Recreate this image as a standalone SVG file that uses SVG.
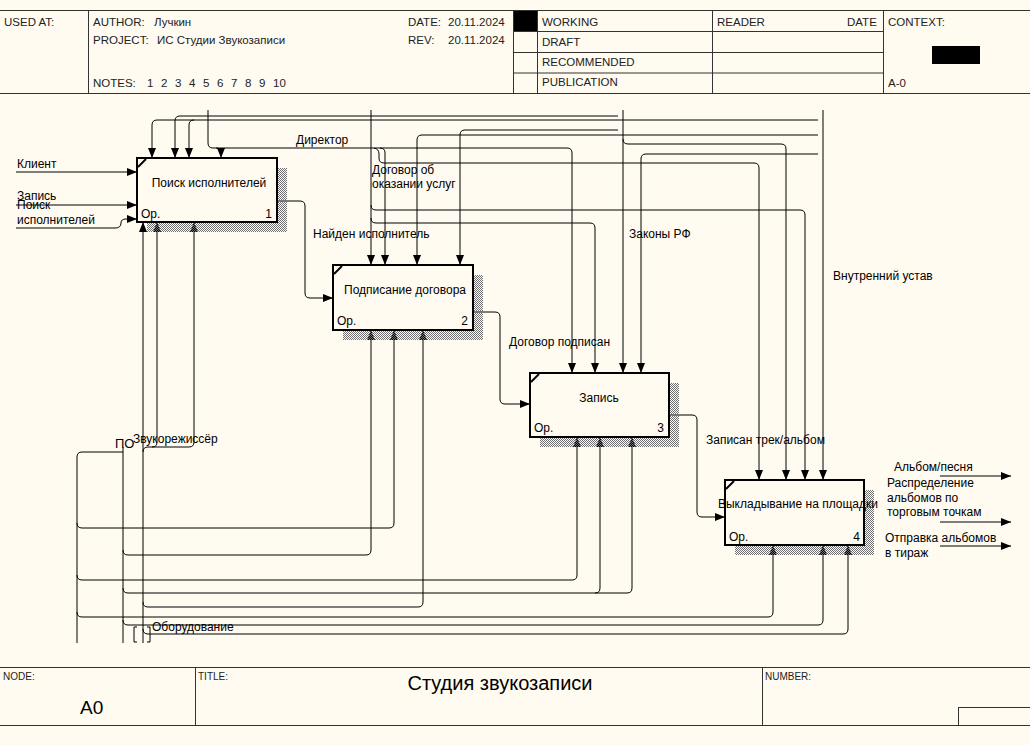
<svg xmlns="http://www.w3.org/2000/svg" width="1030" height="745" viewBox="0 0 1030 745">
<defs>
<pattern id="hatch" width="2" height="2" patternUnits="userSpaceOnUse"><rect width="1" height="1" fill="#707070"/><rect x="1" y="1" width="1" height="1" fill="#707070"/></pattern>
<marker id="ah" markerWidth="10" markerHeight="8" refX="10" refY="4" orient="auto" markerUnits="userSpaceOnUse"><path d="M0,0 L10,4 L0,8 z" fill="#000"/></marker>
</defs>
<style>
text{font-family:"Liberation Sans",Arial,sans-serif;font-size:12px;fill:#000}
.hdr{font-size:11.5px;fill:#222}
.sm{font-size:10px;fill:#222}
.fr{stroke:#333;stroke-width:1;fill:none}
.c{fill:none;stroke:#000;stroke-width:1}
.a{fill:none;stroke:#000;stroke-width:1;marker-end:url(#ah)}
.box{fill:#fffbf1;stroke:#000;stroke-width:2}
.sh{fill:url(#hatch)}
.mid{text-anchor:middle}
.end{text-anchor:end}
</style>
<rect width="1030" height="745" fill="#fffbf1"/>

<g id="header">
<path class="fr" d="M0,10.5 H1030 M0,93.5 H1030 M88.5,10 V94 M513.5,10 V94 M537.5,10 V94 M712.5,10 V94 M883.5,10 V94 M513,31.5 H883 M513,52.5 H883 M513,73 H883"/>
<rect x="514" y="11" width="23" height="20" fill="#000"/>
<rect x="932" y="46" width="48" height="18" fill="#000"/>
<text class="hdr" x="4" y="26">USED AT:</text>
<text class="hdr" x="93" y="26">AUTHOR:<tspan x="154">Лучкин</tspan></text>
<text class="hdr" x="93" y="44">PROJECT:<tspan x="157">ИС Студии Звукозаписи</tspan></text>
<text class="hdr" x="93" y="87">NOTES:<tspan x="147">1</tspan><tspan x="161">2</tspan><tspan x="175">3</tspan><tspan x="189">4</tspan><tspan x="203">5</tspan><tspan x="217">6</tspan><tspan x="231">7</tspan><tspan x="245">8</tspan><tspan x="259">9</tspan><tspan x="273">10</tspan></text>
<text class="hdr" x="408" y="26">DATE:<tspan x="448">20.11.2024</tspan></text>
<text class="hdr" x="408" y="44">REV:<tspan x="448">20.11.2024</tspan></text>
<text class="hdr" x="542" y="26">WORKING</text>
<text class="hdr" x="542" y="46">DRAFT</text>
<text class="hdr" x="542" y="66">RECOMMENDED</text>
<text class="hdr" x="542" y="86">PUBLICATION</text>
<text class="hdr" x="717" y="26">READER</text>
<text class="hdr" x="847" y="26">DATE</text>
<text class="hdr" x="888" y="26">CONTEXT:</text>
<text class="hdr" x="888" y="87">A-0</text>
</g>

<g id="footer">
<path class="fr" d="M0,667.5 H1030 M0,725.5 H1030 M195.5,667 V725 M762.5,667 V725 M958.5,707 V725 M958,707.5 H1030"/>
<text class="sm" x="3" y="680">NODE:</text>
<text x="80" y="714" style="font-size:19px">A0</text>
<text class="sm" x="198" y="680">TITLE:</text>
<text class="mid" x="500" y="690" style="font-size:20px">Студия звукозаписи</text>
<text class="sm" x="765" y="680">NUMBER:</text>
</g>

<g id="connectors">
<path class="a" d="M16,172 H137"/>
<path class="a" d="M16,205 H137"/>
<path class="a" d="M16,228 H115 Q121,228 121,223 Q121,219 126,219 H137"/>
<path class="a" d="M208,110 V143 Q208,148 213,148 H567 Q572,148 572,153 V373"/>
<path class="a" d="M216,148 Q221,148 221,153 V158"/>
<path class="a" d="M380,148 Q385,148 385,153 V265"/>
<path class="a" d="M374,148 Q379,149 379,154 V158 Q379,163 384,163 H754 Q759,163 759,168 V480"/>
<path class="a" d="M371,110 V265"/>
<path class="a" d="M371,120 H157 Q152,120 152,125 V158"/>
<path class="a" d="M194,120 Q189,120 189,125 V158"/>
<path class="a" d="M371,205 Q371,210 376,210 H800 Q805,210 805,215 V480"/>
<path class="a" d="M371,218 Q371,223 376,223 H590 Q595,223 595,228 V373"/>
<path class="a" d="M623,110 V373"/>
<path class="a" d="M618,116 H180 Q175,116 175,121 V158"/>
<path class="a" d="M618,130 H465 Q460,130 460,135 V265"/>
<path class="a" d="M623,139 Q623,144 628,144 H781 Q786,144 786,149 V480"/>
<path class="a" d="M823,110 V480"/>
<path class="c" d="M818,120 H371"/>
<path class="a" d="M818,135 H422 Q417,135 417,140 V265"/>
<path class="a" d="M818,154 H646 Q641,154 641,159 V373"/>
<path class="a" d="M277,201 H300 Q305,201 305,206 V293 Q305,298 310,298 H333"/>
<path class="a" d="M473,312 H495 Q500,312 500,317 V399 Q500,404 505,404 H530"/>
<path class="a" d="M669,415 H692 Q697,415 697,420 V512 Q697,517 702,517 H725"/>
<path class="a" d="M940,476 H1011"/>
<path class="a" d="M940,522 H1011"/>
<path class="a" d="M940,546 H1011"/>
<path class="c" d="M77,643 V457 Q77,452 82,452 H123"/>
<path class="a" d="M77,523 Q77,528 82,528 H389 Q394,528 394,523 V330"/>
<path class="a" d="M77,575 Q77,580 82,580 H572 Q577,580 577,575 V437"/>
<path class="a" d="M77,612 Q77,617 82,617 H768 Q773,617 773,612 V545"/>
<path class="c" d="M123,643 V447"/>
<path class="a" d="M123,550 Q123,555 128,555 H366 Q371,555 371,550 V330"/>
<path class="a" d="M123,588 Q123,593 128,593 H595 Q600,593 600,588 V437"/>
<path class="a" d="M595,593 H627 Q632,593 632,588 V437"/>
<path class="a" d="M123,620 Q123,625 128,625 H818 Q823,625 823,620 V545"/>
<path class="a" d="M143,643 V222"/>
<path class="a" d="M143,452 Q143,447 148,447 H189 Q194,447 194,442 V222"/>
<path class="a" d="M152,447 Q157,447 157,442 V222"/>
<path class="a" d="M143,602 Q143,607 148,607 H418 Q423,607 423,602 V330"/>
<path class="a" d="M143,629 Q143,634 148,634 H843 Q848,634 848,629 V545"/>
<path class="c" d="M137,627 H134 V642 H137 M147,627 H150 V642 H147"/>
</g>

<g id="labels">
<text x="17" y="168">Клиент</text>
<text x="17" y="200">Запись</text>
<text x="17" y="209">Поиск</text>
<text x="17" y="224">исполнителей</text>
<text x="296" y="144">Директор</text>
<text x="372" y="174">Договор об</text>
<text x="372" y="188">оказании услуг</text>
<text x="313" y="238">Найден исполнитель</text>
<text x="629" y="238">Законы РФ</text>
<text x="833" y="280">Внутренний устав</text>
<text x="509" y="346">Договор подписан</text>
<text x="706" y="444">Записан трек/альбом</text>
<text x="894" y="471">Альбом/песня</text>
<text x="887" y="487">Распределение</text>
<text x="887" y="502">альбомов по</text>
<text x="887" y="516">торговым точкам</text>
<text x="885" y="542">Отправка альбомов</text>
<text x="885" y="557">в тираж</text>
<text x="115" y="448" style="font-size:13px">ПО</text>
<text x="133" y="443">Звукорежиссёр</text>
<text x="152" y="631">Оборудование</text>
</g>

<g id="node1">
<rect class="sh" x="147" y="168" width="140" height="64"/>
<rect class="box" x="137" y="158" width="140" height="64"/>
<path d="M138,167 L146,159" stroke="#000" stroke-width="2"/>
<text class="mid" x="209" y="187">Поиск исполнителей</text>
<text x="141" y="218">Ор.</text>
<text class="end" x="272" y="218">1</text>
</g>
<g id="node2">
<rect class="sh" x="343" y="275" width="140" height="65"/>
<rect class="box" x="333" y="265" width="140" height="65"/>
<path d="M334,274 L342,266" stroke="#000" stroke-width="2"/>
<text class="mid" x="405" y="294">Подписание договора</text>
<text x="337" y="325">Ор.</text>
<text class="end" x="468" y="325">2</text>
</g>
<g id="node3">
<rect class="sh" x="540" y="383" width="139" height="64"/>
<rect class="box" x="530" y="373" width="139" height="64"/>
<path d="M531,382 L539,374" stroke="#000" stroke-width="2"/>
<text class="mid" x="599" y="402">Запись</text>
<text x="534" y="432">Ор.</text>
<text class="end" x="664" y="432">3</text>
</g>
<g id="node4">
<rect class="sh" x="735" y="490" width="139" height="65"/>
<rect class="box" x="725" y="480" width="139" height="65"/>
<path d="M726,489 L734,481" stroke="#000" stroke-width="2"/>
<text class="mid" x="798" y="508">Выкладывание на площадки</text>
<text x="729" y="541">Ор.</text>
<text class="end" x="860" y="541">4</text>
</g>
</svg>
